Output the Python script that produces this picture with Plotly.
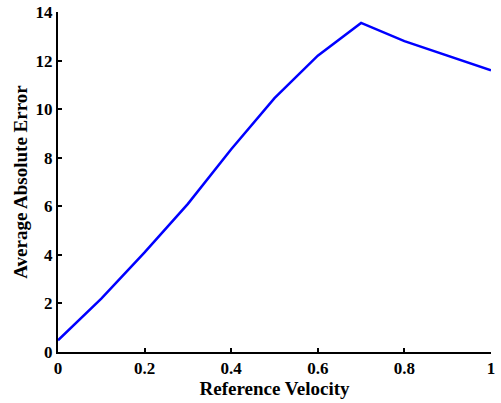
import plotly.graph_objects as go

velocity = [0.0, 0.1, 0.2, 0.3, 0.4, 0.5, 0.6, 0.7, 0.8, 0.9, 1.0]
avg_abs_error = [0.48, 2.2, 4.1, 6.1, 8.35, 10.45, 12.2, 13.55, 12.8, 12.2, 11.6]

x_ticks = [0, 0.2, 0.4, 0.6, 0.8, 1]
x_labels = ["0", "0.2", "0.4", "0.6", "0.8", "1"]
y_ticks = [0, 2, 4, 6, 8, 10, 12, 14]

font_family = "Liberation Serif, Times New Roman, serif"

fig = go.Figure()
fig.add_trace(go.Scatter(x=velocity, y=avg_abs_error, mode="lines",
                         line=dict(color="#0000ff", width=2.5)))

fig.update_layout(
    width=501, height=403,
    margin=dict(l=58, r=10, t=12, b=51),
    paper_bgcolor="white", plot_bgcolor="white",
    showlegend=False,
    font=dict(family=font_family, color="black", size=17),
)
fig.update_xaxes(
    range=[0, 1], tickvals=x_ticks, ticktext=x_labels, automargin=False,
    showgrid=False, zeroline=False, showline=True, linecolor="black", linewidth=2,
    ticks="inside", ticklen=4, tickwidth=2, tickcolor="black",
    tickfont=dict(family=font_family, size=17, color="black", weight="bold"),
    title=dict(text="<b>Reference Velocity</b>", font=dict(family=font_family, size=19), standoff=0),
)
fig.update_yaxes(
    range=[0, 14], tickvals=y_ticks, automargin=False,
    showgrid=False, zeroline=False, showline=True, linecolor="black", linewidth=2,
    ticks="inside", ticklen=4, tickwidth=2, tickcolor="black",
    tickfont=dict(family=font_family, size=17, color="black", weight="bold"),
    title=dict(text="<b>Average Absolute Error</b>", font=dict(family=font_family, size=19), standoff=3),
)

fig.write_html("out.html", config={"displayModeBar": False},
               post_script="document.body.style.margin='0';")
